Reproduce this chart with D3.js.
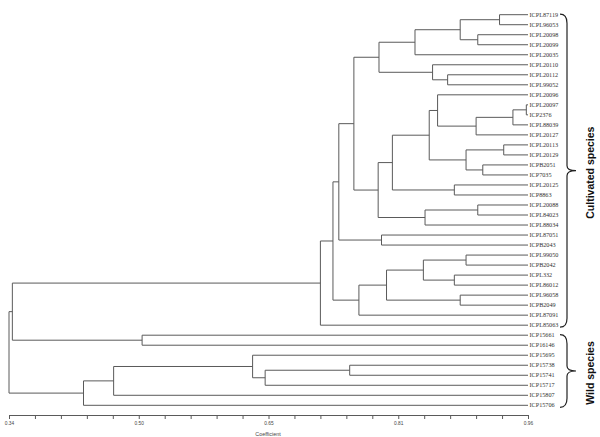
<!DOCTYPE html>
<html>
<head>
<meta charset="utf-8">
<script src="https://cdn.jsdelivr.net/npm/d3@7"></script>
<style>
  html, body { margin: 0; padding: 0; background: #fff; }
  svg { display: block; }
</style>
</head>
<body>
<svg id="chart" width="600" height="437"></svg>
<script>
// ---- data ----
const leaves = ["ICPL87119","ICPL96053","ICPL20098","ICPL20099","ICPL20035","ICPL20110","ICPL20112","ICPL99052",
  "ICPL20096","ICPL20097","ICP2376","ICPL88039","ICPL20127","ICPL20113","ICPL20129","ICPB2051","ICP7035",
  "ICPL20125","ICP8863","ICPL20088","ICPL84023","ICPL88034","ICPL87051","ICPB2043","ICPL99050","ICPB2042",
  "ICPL332","ICPL86012","ICPL96058","ICPB2049","ICPL87091","ICPL85063","ICP15661","ICP16146","ICP15695",
  "ICP15738","ICP15741","ICP15717","ICP15807","ICP15706"];

// each merge joins two members: "L#" = leaf index, "N#" = earlier merge index
const merges = [
  ["L0","L1"],["L2","L3"],["N0","N1"],["N2","L4"],["L6","L7"],["L5","N4"],["N3","N5"],
  ["L9","L10"],["N7","L11"],["N8","L12"],["L8","N9"],["L13","L14"],["L15","L16"],["N11","N12"],
  ["N10","N13"],["L17","L18"],["N14","N15"],["L19","L20"],["N17","L21"],["N16","N18"],["N6","N19"],
  ["L22","L23"],["N20","N21"],["L24","L25"],["L26","L27"],["N23","N24"],["L28","L29"],["N25","N26"],
  ["N27","L30"],["N22","N28"],["N29","L31"],["L32","L33"],["N30","N31"],["L35","L36"],["N33","L37"],
  ["L34","N34"],["N35","L38"],["N36","L39"],["N32","N37"]
];
const mergeCoef = [
  0.926,0.900,0.879,0.825,0.864,0.846,0.782,
  0.958,0.942,0.898,0.852,0.931,0.906,0.886,
  0.842,0.872,0.798,0.900,0.837,0.781,0.752,
  0.785,0.734,0.886,0.872,0.835,0.879,0.791,
  0.758,0.727,0.712,0.499,0.344,0.747,0.646,
  0.631,0.465,0.429,0.340
];
const leafCoef = 0.96;
const tickValues = [0.34,0.371,0.402,0.433,0.464,0.495,0.526,0.557,0.588,0.619,0.65,
  0.681,0.712,0.743,0.774,0.805,0.836,0.867,0.898,0.929,0.96];
const tickLabels = {0:"0.34",5:"0.50",10:"0.65",15:"0.81",20:"0.96"};
const groupNames = ["Cultivated species","Wild species"];
const groupFirst = [0, 32];
const groupLast = [31, 39];

// ---- scales ----
const x = d3.scaleLinear().domain([0.34, 0.96]).range([9, 528]);
const y = d3.scaleLinear().domain([0, leaves.length - 1]).range([14.7, 405.3]);

const svg = d3.select("#chart");
const lineColor = "#5a5a5a";

// compute positions
const nodePos = [];
function pos(ref) {
  const k = +ref.slice(1);
  if (ref[0] === "L") return { x: x(leafCoef), y: y(k) };
  return nodePos[k];
}
merges.forEach((m, i) => {
  const a = pos(m[0]), b = pos(m[1]);
  nodePos[i] = { x: x(mergeCoef[i]), y: (a.y + b.y) / 2, a, b };
});

const g = svg.append("g").attr("fill", "none").attr("stroke", lineColor).attr("stroke-width", 1);
nodePos.forEach(n => {
  g.append("path").attr("d",
    `M${n.a.x},${n.a.y}H${n.x}V${n.b.y}H${n.b.x}`);
});

// leaf labels
svg.append("g").selectAll("text").data(leaves).join("text")
  .attr("x", x(leafCoef) + 1.5)
  .attr("y", (d, i) => y(i) + 2)
  .attr("font-family", "Liberation Serif, serif")
  .attr("font-size", 6.2)
  .attr("fill", "#333")
  .text(d => d);

// axis
const axis = d3.axisBottom(x)
  .tickValues(tickValues)
  .tickSize(4)
  .tickSizeOuter(0)
  .tickFormat((d, i) => tickLabels[i] || "");
const ax = svg.append("g").attr("transform", "translate(0,415)").call(axis);
ax.select(".domain").attr("stroke", lineColor);
ax.selectAll(".tick line").attr("stroke", lineColor);
ax.selectAll(".tick text")
  .attr("y", 7)
  .attr("font-family", "Liberation Sans, Arial, sans-serif")
  .attr("font-size", 4.8)
  .attr("fill", "#444");

svg.append("text")
  .attr("x", 268).attr("y", 435.5)
  .attr("text-anchor", "middle")
  .attr("font-family", "Liberation Sans, Arial, sans-serif")
  .attr("font-size", 5.4)
  .attr("fill", "#444")
  .text("Coefficient");

// braces and group labels
groupNames.forEach((name, i) => {
  const y0 = y(groupFirst[i]) - 0.5, y1 = y(groupLast[i]) + 2;
  const ym = (y0 + y1) / 2;
  const x0 = 560, x1 = 567, x2 = 576, r = 9;
  svg.append("path")
    .attr("d", `M${x0},${y0}Q${x1},${y0} ${x1},${y0 + r}V${ym - 5}Q${x1},${ym} ${x2},${ym}` +
      `Q${x1},${ym} ${x1},${ym + 5}V${y1 - r}Q${x1},${y1} ${x0},${y1}`)
    .attr("fill", "none").attr("stroke", "#222").attr("stroke-width", 1.2);
  svg.append("text")
    .attr("transform", `translate(594,${ym + 2}) rotate(-90)`)
    .attr("text-anchor", "middle")
    .attr("font-family", "Liberation Sans, Arial, sans-serif")
    .attr("font-weight", "bold")
    .attr("font-size", 10.5)
    .attr("fill", "#111")
    .text(name);
});
</script>
</body>
</html>
